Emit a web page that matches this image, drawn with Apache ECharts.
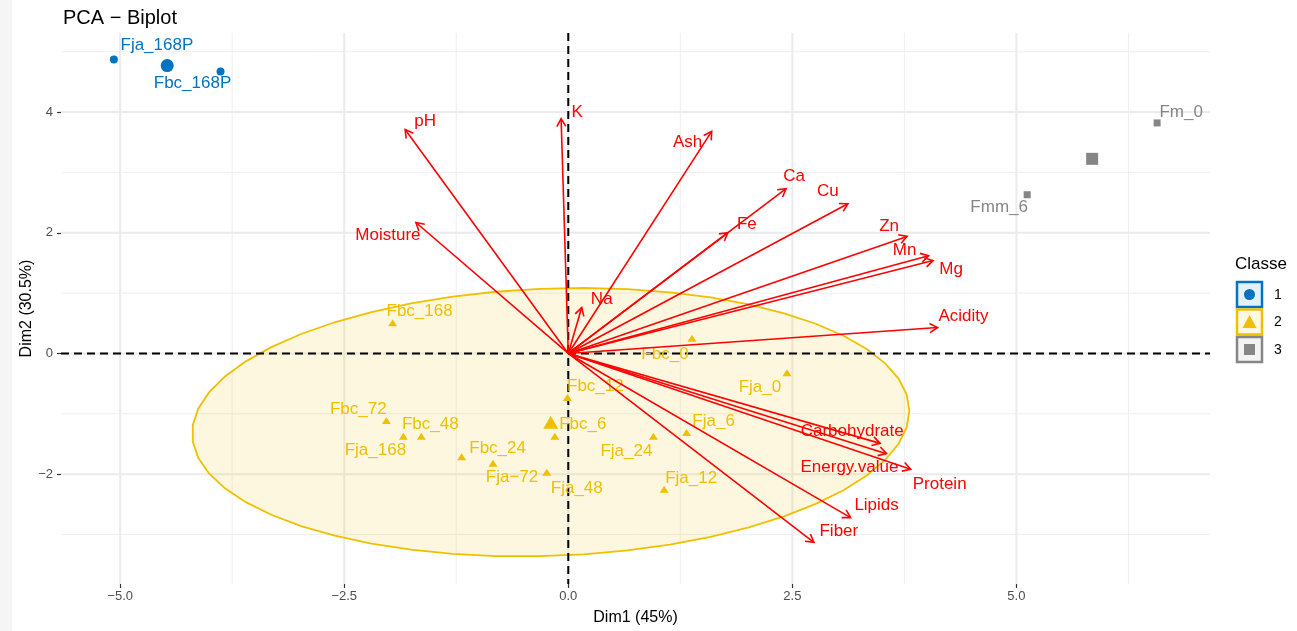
<!DOCTYPE html>
<html>
<head>
<meta charset="utf-8">
<script src="https://cdn.jsdelivr.net/npm/echarts@6/dist/echarts.min.js"></script>
<style>
  html, body { margin: 0; padding: 0; background: #fff; }
  #chart { width: 1297px; height: 631px; }
</style>
</head>
<body>
<div id="chart"></div>
<script>
// individuals, class 1
const c1Names = ['Fja_168P', 'Fbc_168P']
const c1X = [-5.07, -3.88]
const c1Y = [4.87, 4.67]

// individuals, class 2
const c2Names = ['Fbc_168', 'Fbc_0', 'Fbc_12', 'Fbc_72', 'Fbc_48', 'Fja_168', 'Fbc_6',
  'Fbc_24', 'Fja\u221272', 'Fja_48', 'Fja_24', 'Fja_6', 'Fja_12', 'Fja_0']
const c2X = [-1.96, 1.38, -0.01, -2.03, -1.64, -1.84, -0.15, -1.19, -0.84, -0.24, 0.95, 1.32, 1.07, 2.44]
const c2Y = [0.51, 0.25, -0.73, -1.11, -1.37, -1.37, -1.37, -1.71, -1.82, -1.97, -1.37, -1.31, -2.25, -0.32]

// individuals, class 3
const c3Names = ['Fm_0', 'Fmm_6']
const c3X = [6.57, 5.12]
const c3Y = [3.82, 2.63]

// variables (arrow tips)
const varNames = ['pH', 'K', 'Ash', 'Ca', 'Cu', 'Fe', 'Moisture', 'Na', 'Zn', 'Mn', 'Mg', 'Acidity',
  'Carbohydrate', 'Energy.value', 'Protein', 'Lipids', 'Fiber']
const varX = [-1.82, -0.08, 1.60, 2.43, 3.12, 1.78, -1.70, 0.15, 3.78, 4.02, 4.07, 4.12, 3.48, 3.55, 3.82, 3.15, 2.74]
const varY = [3.71, 3.89, 3.68, 2.73, 2.48, 2.00, 2.17, 0.76, 1.94, 1.62, 1.54, 0.43, -1.49, -1.66, -1.92, -2.72, -3.13]

// axes
const xTicks = [-5, -2.5, 0, 2.5, 5]
const yTicks = [-2, 0, 2, 4]
const xMinor = [-3.75, -1.25, 1.25, 3.75, 6.25]
const yMinor = [-3, -1, 1, 3, 5]

// label placement (pixel offsets, like ggrepel put them)
const c1LabelOff = [[43, -14], [-28, 12]]
const c2LabelOff = [[27, -11], [-27, 16], [28, -11], [-28, -11], [9, -12], [-28, 14], [28, -12],
  [36, -8], [19, 14], [30, 16], [-27, 15], [27, -11], [27, -11], [-27, 15]]
const c3LabelOff = [[24, -11], [-28, 13]]
const varLabelOff = [[20, -8], [16, -6], [-24, 11], [8, -12], [-20, -12], [19, -8], [-28, 13], [20, -8],
  [-18, -10], [-24, -5], [18, 9], [26, -11], [-28, -12], [-37, 14], [29, 15], [26, -12], [25, -11]]

const BLUE = '#0073C2', YELLOW = '#EFC000', GREY = '#868686', RED = '#FF0000'
const FONT = 'Liberation Sans, Arial, sans-serif'

function mean(a) { return a.reduce((s, v) => s + v, 0) / a.length }

// normal-theory 95% ellipse, same recipe as stat_ellipse(type = "norm")
function normEllipse(xs, ys, level, segments) {
  const n = xs.length
  const mx = mean(xs), my = mean(ys)
  let sxx = 0, syy = 0, sxy = 0
  for (let i = 0; i < n; i++) {
    sxx += (xs[i] - mx) ** 2
    syy += (ys[i] - my) ** 2
    sxy += (xs[i] - mx) * (ys[i] - my)
  }
  sxx /= n - 1; syy /= n - 1; sxy /= n - 1
  const dfd = n - 1
  const q = dfd / 2 * (Math.pow(1 - level, -2 / dfd) - 1) // qf(level, 2, n-1)
  const r = Math.sqrt(2 * q)
  const a = Math.sqrt(sxx), b = sxy / a, c = Math.sqrt(syy - b * b)
  const pts = []
  for (let i = 0; i <= segments; i++) {
    const t = 2 * Math.PI * i / segments
    const ux = Math.cos(t), uy = Math.sin(t)
    pts.push([mx + r * ux * a, my + r * (ux * b + uy * c)])
  }
  return pts
}
const ellipse2 = normEllipse(c2X, c2Y, 0.95, 51)

function classSeries(names, xs, ys, offs, color, symbol, size, bigSize) {
  const data = names.map((n, i) => ({
    name: n, value: [xs[i], ys[i]],
    label: { offset: offs[i] }
  }))
  data.push({ name: '', value: [mean(xs), mean(ys)], symbolSize: bigSize, label: { show: false } })
  return {
    type: 'scatter', z: 6, symbol: symbol, symbolSize: size,
    itemStyle: { color: color, opacity: 1 },
    label: {
      show: true, position: 'inside', formatter: '{b}', color: color,
      fontSize: 17, fontFamily: FONT
    },
    emphasis: { disabled: true },
    data: data
  }
}

function gridLine(dir) {
  return function (params, api) {
    const cs = params.coordSys
    const v = api.value(0), major = api.value(1)
    const style = { stroke: major ? '#EBEBEB' : '#EFEFEF', lineWidth: major ? 2 : 1 }
    if (dir === 'x') {
      const p = api.coord([v, 0])
      return { type: 'line', shape: { x1: p[0], y1: cs.y, x2: p[0], y2: cs.y + cs.height }, style }
    }
    const p = api.coord([0, v])
    return { type: 'line', shape: { x1: cs.x, y1: p[1], x2: cs.x + cs.width, y2: p[1] }, style }
  }
}

const chart = echarts.init(document.getElementById('chart'))
const option = {
  animation: false,
  backgroundColor: '#fff',
  title: {
    text: 'PCA \u2212 Biplot', left: 58, top: 3,
    textStyle: { fontSize: 20, fontWeight: 'normal', color: '#000', fontFamily: FONT }
  },
  grid: { left: 61, right: 87, top: 33, bottom: 47 },
  xAxis: {
    type: 'value', min: -5.66, max: 7.16,
    name: 'Dim1 (45%)', nameLocation: 'middle', nameGap: 26, nameMoveOverlap: false,
    nameTextStyle: { fontSize: 16, color: '#000', fontFamily: FONT },
    axisLine: { show: false, onZero: false },
    axisTick: { show: true, customValues: xTicks, length: 4, lineStyle: { color: '#333', width: 1.2 } },
    axisLabel: {
      customValues: xTicks, color: '#4D4D4D', fontSize: 13, fontFamily: FONT, margin: 6,
      formatter: v => (v < 0 ? '\u2212' : '') + Math.abs(v).toFixed(1)
    },
    splitLine: { show: false }
  },
  yAxis: {
    type: 'value', min: -3.82, max: 5.31,
    name: 'Dim2 (30.5%)', nameLocation: 'middle', nameGap: 26, nameRotate: 90, nameMoveOverlap: false,
    nameTextStyle: { fontSize: 16, color: '#000', fontFamily: FONT },
    axisLine: { show: false, onZero: false },
    axisTick: { show: true, customValues: yTicks, length: 4, lineStyle: { color: '#333', width: 1.2 } },
    axisLabel: {
      customValues: yTicks, color: '#4D4D4D', fontSize: 13, fontFamily: FONT, margin: 8,
      formatter: v => (v < 0 ? '\u2212' : '') + Math.abs(v)
    },
    splitLine: { show: false }
  },
  series: [
    {
      type: 'custom', z: 1, silent: true, renderItem: gridLine('x'),
      data: xMinor.map(v => [v, 0]).concat(xTicks.map(v => [v, 1]))
    },
    {
      type: 'custom', z: 1, silent: true, renderItem: gridLine('y'),
      encode: { x: -1, y: 0 },
      data: yMinor.map(v => [v, 0]).concat(yTicks.map(v => [v, 1]))
    },
    {
      // class 2 confidence ellipse
      type: 'custom', z: 2, silent: true,
      data: [[mean(c2X), mean(c2Y)]],
      renderItem: function (params, api) {
        return {
          type: 'polygon',
          shape: { points: ellipse2.map(p => api.coord(p)) },
          style: { fill: 'rgba(239,192,0,0.12)', stroke: YELLOW, lineWidth: 1.8 }
        }
      }
    },
    {
      // reference lines through the origin
      type: 'custom', z: 3, silent: true,
      data: [[0, 0]],
      renderItem: function (params, api) {
        const cs = params.coordSys
        const o = api.coord([0, 0])
        const st = { stroke: '#000', lineWidth: 2, lineDash: [8, 5] }
        return {
          type: 'group', children: [
            { type: 'line', shape: { x1: cs.x, y1: o[1], x2: cs.x + cs.width, y2: o[1] }, style: st },
            { type: 'line', shape: { x1: o[0], y1: cs.y, x2: o[0], y2: cs.y + cs.height }, style: st }
          ]
        }
      }
    },
    classSeries(c1Names, c1X, c1Y, c1LabelOff, BLUE, 'circle', 8, 13),
    classSeries(c2Names, c2X, c2Y, c2LabelOff, YELLOW, 'triangle', [9, 7], [15, 13]),
    classSeries(c3Names, c3X, c3Y, c3LabelOff, GREY, 'rect', 7, 12),
    {
      // variable arrows
      type: 'custom', z: 8, silent: true,
      data: varNames.map((n, i) => [varX[i], varY[i], i]),
      renderItem: function (params, api) {
        const i = api.value(2)
        const o = api.coord([0, 0])
        const t = api.coord([api.value(0), api.value(1)])
        const ang = Math.atan2(t[1] - o[1], t[0] - o[0])
        const hl = 9, ha = Math.PI / 6
        const h1 = [t[0] - hl * Math.cos(ang - ha), t[1] - hl * Math.sin(ang - ha)]
        const h2 = [t[0] - hl * Math.cos(ang + ha), t[1] - hl * Math.sin(ang + ha)]
        const st = { stroke: RED, lineWidth: 1.6, fill: null }
        const off = varLabelOff[i]
        return {
          type: 'group', children: [
            { type: 'line', shape: { x1: o[0], y1: o[1], x2: t[0], y2: t[1] }, style: st },
            { type: 'polyline', shape: { points: [h1, t, h2] }, style: st },
            {
              type: 'text', x: t[0] + off[0], y: t[1] + off[1],
              style: {
                text: varNames[i], fill: RED, font: '17px ' + FONT,
                align: 'center', verticalAlign: 'middle'
              }
            }
          ]
        }
      }
    }
  ],
  graphic: [
    { type: 'rect', left: 0, top: 0, shape: { width: 12, height: 631 }, style: { fill: '#F5F5F5' }, silent: true },
    {
      type: 'group', left: 1235, top: 256,
      children: [
        { type: 'text', x: 0, y: 0, style: { text: 'Classe', fill: '#000', font: '17px ' + FONT } },
        // key 1
        { type: 'rect', shape: { x: 2, y: 26, width: 25, height: 25 }, style: { fill: 'rgba(0,115,194,0.1)', stroke: BLUE, lineWidth: 2.5 } },
        { type: 'circle', shape: { cx: 14.5, cy: 38.5, r: 5.5 }, style: { fill: BLUE } },
        { type: 'text', x: 39, y: 39, style: { text: '1', fill: '#000', font: '14px ' + FONT, verticalAlign: 'middle' } },
        // key 2
        { type: 'rect', shape: { x: 2, y: 53.5, width: 25, height: 25 }, style: { fill: 'rgba(239,192,0,0.1)', stroke: YELLOW, lineWidth: 2.5 } },
        { type: 'polygon', shape: { points: [[14.5, 59], [21.5, 72], [7.5, 72]] }, style: { fill: YELLOW } },
        { type: 'text', x: 39, y: 66.5, style: { text: '2', fill: '#000', font: '14px ' + FONT, verticalAlign: 'middle' } },
        // key 3
        { type: 'rect', shape: { x: 2, y: 81, width: 25, height: 25 }, style: { fill: 'rgba(134,134,134,0.1)', stroke: GREY, lineWidth: 2.5 } },
        { type: 'rect', shape: { x: 9, y: 88, width: 11, height: 11 }, style: { fill: GREY } },
        { type: 'text', x: 39, y: 94, style: { text: '3', fill: '#000', font: '14px ' + FONT, verticalAlign: 'middle' } }
      ]
    }
  ]
}
chart.setOption(option)
</script>
</body>
</html>
